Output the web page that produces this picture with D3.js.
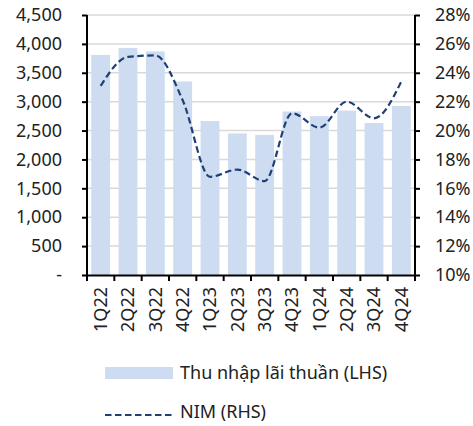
<!DOCTYPE html>
<html>
<head>
<meta charset="utf-8">
<script src="https://cdn.jsdelivr.net/npm/d3@7"></script>
<style>
  body { margin: 0; background: #fff; }
  text { font-family: "Noto Sans", sans-serif; fill: #222; }
</style>
</head>
<body>
<div id="chart"></div>
<script>
const quarters = ["1Q22","2Q22","3Q22","4Q22","1Q23","2Q23","3Q23","4Q23","1Q24","2Q24","3Q24","4Q24"];
const netInterest = [3810, 3930, 3870, 3350, 2665, 2450, 2425, 2830, 2750, 2845, 2630, 2925];
const nim = [23.1, 25.1, 25.2, 22.1, 16.8, 17.3, 16.5, 21.2, 20.2, 22.0, 20.85, 23.4];
const leftTicks = [0, 500, 1000, 1500, 2000, 2500, 3000, 3500, 4000, 4500];
const rightTicks = [10, 12, 14, 16, 18, 20, 22, 24, 26, 28];

const W = 473, H = 426;
const margin = {top: 15, right: 58, bottom: 151, left: 87};
const width = W - margin.left - margin.right;
const height = H - margin.top - margin.bottom;
const fontSize = "18px";

const svg = d3.select("#chart").append("svg")
    .attr("width", W)
    .attr("height", H);

const g = svg.append("g")
    .attr("transform", `translate(${margin.left},${margin.top})`);

const x = d3.scaleBand().domain(quarters).range([0, width]).paddingInner(0.31).paddingOuter(0.155);
const xBand = d3.scaleBand().domain(quarters).range([0, width]);
const yL = d3.scaleLinear().domain([0, 4500]).range([height, 0]);
const yR = d3.scaleLinear().domain([10, 28]).range([height, 0]);

// gridlines
g.append("g").selectAll("line")
    .data(leftTicks.slice(1))
    .join("line")
    .attr("x1", 0).attr("x2", width)
    .attr("y1", d => yL(d)).attr("y2", d => yL(d))
    .attr("stroke", "#d9d9d9")
    .attr("stroke-width", 1.5);

// bars
g.append("g").selectAll("rect")
    .data(netInterest)
    .join("rect")
    .attr("x", (d, i) => x(quarters[i]))
    .attr("y", d => yL(d))
    .attr("width", x.bandwidth())
    .attr("height", d => height - yL(d))
    .attr("fill", "#cddcf1");

// NIM line
const line = d3.line()
    .x((d, i) => xBand(quarters[i]) + xBand.bandwidth() / 2)
    .y(d => yR(d))
    .curve(d3.curveMonotoneX);

g.append("path")
    .datum(nim)
    .attr("fill", "none")
    .attr("stroke", "#1f3f77")
    .attr("stroke-width", 2.2)
    .attr("stroke-dasharray", "6.5,3.5")
    .attr("d", line);

// axes
const leftAxis = g.append("g")
    .call(d3.axisLeft(yL).tickValues(leftTicks)
        .tickFormat(d => d === 0 ? "-" : d3.format(",")(d))
        .tickSize(5).tickPadding(20));
const rightAxis = g.append("g")
    .attr("transform", `translate(${width},0)`)
    .call(d3.axisRight(yR).tickValues(rightTicks)
        .tickFormat(d => d + "%")
        .tickSize(5).tickPadding(15));
const bottomAxis = g.append("g")
    .attr("transform", `translate(0,${height})`)
    .call(d3.axisBottom(xBand).tickSize(0).tickPadding(0));

[leftAxis, rightAxis].forEach(a => {
    a.select(".domain").attr("stroke", "#000").attr("stroke-width", 2).attr("d", `M0,0V${height}`);
    a.selectAll(".tick line").attr("stroke", "#000").attr("stroke-width", 2);
    a.selectAll("text").style("font-size", fontSize).attr("fill", "#222");
});

bottomAxis.select(".domain").attr("stroke", "#000").attr("stroke-width", 2);
bottomAxis.selectAll(".tick line").remove();
bottomAxis.selectAll("text")
    .style("font-size", fontSize)
    .attr("fill", "#222")
    .attr("transform", "rotate(-90)")
    .attr("text-anchor", "end")
    .attr("x", -12)
    .attr("y", 0)
    .attr("dy", "0.35em");

// tick marks at band boundaries
bottomAxis.append("g").selectAll("line")
    .data(d3.range(quarters.length + 1))
    .join("line")
    .attr("x1", i => i * xBand.step()).attr("x2", i => i * xBand.step())
    .attr("y1", 0).attr("y2", 6)
    .attr("stroke", "#000").attr("stroke-width", 2);

// legend
const legend = svg.append("g");
legend.append("rect")
    .attr("x", 105).attr("y", 367)
    .attr("width", 68).attr("height", 12)
    .attr("fill", "#cddcf1");
legend.append("text")
    .attr("x", 180).attr("y", 379)
    .style("font-size", fontSize)
    .text("Thu nhập lãi thuần (LHS)");
legend.append("line")
    .attr("x1", 105).attr("x2", 173)
    .attr("y1", 415).attr("y2", 415)
    .attr("stroke", "#1f3f77")
    .attr("stroke-width", 2.2)
    .attr("stroke-dasharray", "6.5,3.5");
legend.append("text")
    .attr("x", 180).attr("y", 418)
    .style("font-size", fontSize)
    .text("NIM (RHS)");
</script>
</body>
</html>
